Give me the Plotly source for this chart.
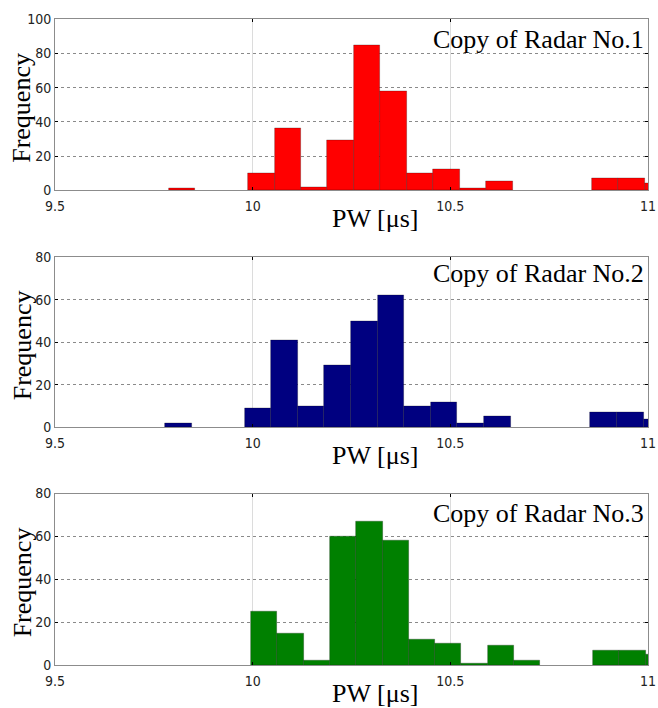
import plotly.graph_objects as go

# ---- data ----
titles = ["Copy of Radar No.1", "Copy of Radar No.2", "Copy of Radar No.3"]
colors = ["#FF0000", "#000080", "#008000"]

bin_start_1 = 9.7879
bin_width_1 = 0.06689
counts_1 = [1, 0, 0, 10, 36, 2, 29, 85, 58, 10, 12, 1, 5, 0, 0, 0, 7, 7, 4]

bin_start_2 = 9.7780
bin_width_2 = 0.06727
counts_2 = [2, 0, 0, 9, 41, 10, 29, 50, 62, 10, 12, 2, 5, 0, 0, 0, 7, 7, 4]

bin_start_3 = 9.9962
bin_width_3 = 0.06650
counts_3 = [25, 15, 2, 60, 67, 58, 12, 10, 1, 9, 2, 0, 0, 7, 7, 5]

x_ticks = [9.5, 10, 10.5, 11]
x_tick_text = ["9.5", "10", "10.5", "11"]
y_max = [100, 80, 80]
x_label = "PW [μs]"
y_label = "Frequency"

# ---- layout geometry (pixels) ----
W, H = 658, 708
x_left, x_right = 55, 648
panels_px = [(19.3, 190.3), (257.3, 427.3), (493.5, 665.2)]
title_offsets = [4, 0, 3]

fig = go.Figure()
series = [(bin_start_1, bin_width_1, counts_1),
          (bin_start_2, bin_width_2, counts_2),
          (bin_start_3, bin_width_3, counts_3)]

serif = "Liberation Serif, Times New Roman, serif"
tickfont = dict(family="DejaVu Sans Condensed, DejaVu Sans, sans-serif", size=14, color="#222")

annotations = []
for i, ((start, width, counts), col) in enumerate(zip(series, colors)):
    xs = [start + (k + 0.5) * width for k, c in enumerate(counts) if c > 0]
    ys = [c for c in counts if c > 0]
    xa = "x" if i == 0 else f"x{i+1}"
    ya = "y" if i == 0 else f"y{i+1}"
    fig.add_trace(go.Bar(
        x=xs, y=ys, width=[width] * len(ys),
        marker=dict(color=col, line=dict(color="rgba(0,0,0,0.35)", width=0.7)),
        xaxis=xa, yaxis=ya, showlegend=False,
    ))
    top, bot = panels_px[i]
    dom_y = [1 - bot / H, 1 - top / H]
    axx = dict(
        domain=[x_left / W, x_right / W], range=[9.5, 11], automargin=False,
        tickvals=x_ticks, ticktext=x_tick_text, ticklabelstandoff=3,
        showgrid=True, gridcolor="#dcdcdc", gridwidth=1,
        showline=True, linecolor="#8c8c8c", linewidth=1, mirror="ticks",
        ticks="inside", ticklen=3, tickcolor="#000", tickwidth=1,
        tickfont=tickfont, zeroline=False, anchor=ya, fixedrange=True,
    )
    axy = dict(
        domain=dom_y, range=[0, y_max[i]], dtick=20, tick0=0, automargin=False,
        showgrid=True, gridcolor="#8a8a8a", gridwidth=1, griddash="dot",
        showline=True, linecolor="#8c8c8c", linewidth=1, mirror="ticks",
        ticks="inside", ticklen=3, tickcolor="#000", tickwidth=1,
        tickfont=tickfont, zeroline=False, anchor=xa, fixedrange=True,
    )
    fig.update_layout(**{("xaxis" if i == 0 else f"xaxis{i+1}"): axx,
                         ("yaxis" if i == 0 else f"yaxis{i+1}"): axy})

    # title inside panel (top right)
    annotations.append(dict(
        text=titles[i], xref="paper", yref="paper",
        x=(x_right - 2) / W, y=1 - (top + title_offsets[i]) / H,
        xanchor="right", yanchor="top", showarrow=False,
        font=dict(family=serif, size=26, color="#000"),
    ))
    # x label
    annotations.append(dict(
        text=x_label, xref="paper", yref="paper",
        x=375 / W, y=1 - (bot + 28) / H,
        xanchor="center", yanchor="middle", showarrow=False,
        font=dict(family=serif, size=26, color="#000"),
    ))
    # y label
    annotations.append(dict(
        text=y_label, xref="paper", yref="paper",
        x=22 / W, y=1 - ((top + bot) / 2 + 3) / H,
        xanchor="center", yanchor="middle", showarrow=False, textangle=-90,
        font=dict(family=serif, size=26, color="#000"),
    ))

fig.update_layout(
    template="none",
    width=W, height=H, margin=dict(l=0, r=0, t=0, b=0, autoexpand=False),
    paper_bgcolor="white", plot_bgcolor="white",
    bargap=0, annotations=annotations,
)

fig.write_html("out.html")
